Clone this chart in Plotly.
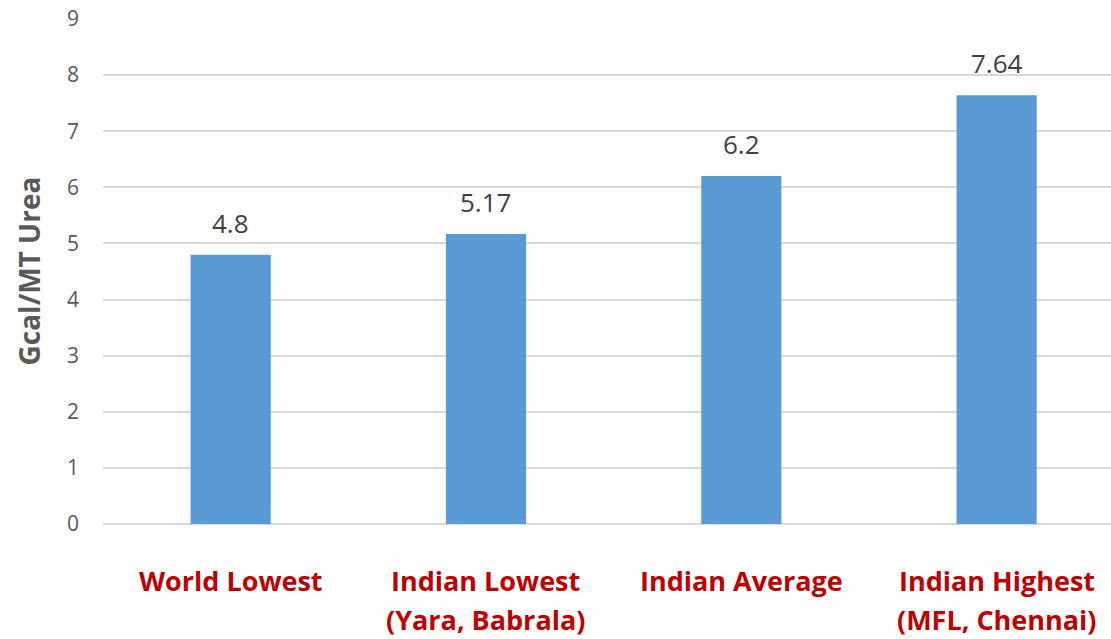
import plotly.graph_objects as go

categories = ["World Lowest", "Indian Lowest<br>(Yara, Babrala)", "Indian Average", "Indian Highest<br>(MFL, Chennai)"]
values = [4.8, 5.17, 6.2, 7.64]
value_labels = ["4.8", "5.17", "6.2", "7.64"]
y_ticks = [0, 1, 2, 3, 4, 5, 6, 7, 8, 9]
y_title = "Gcal/MT Urea"

fig = go.Figure()
fig.add_trace(go.Bar(
    x=categories, y=values, width=0.314,
    marker=dict(color="#5B9BD5", line=dict(width=0)),
    hoverinfo="skip",
))

annotations = []
for c, v, t in zip(categories, values, value_labels):
    annotations.append(dict(x=c, y=v, xref="x", yref="y", text=t, showarrow=False,
                            yanchor="bottom", yshift=12,
                            font=dict(family="Open Sans", size=26, color="#404040")))
    lines = c.split("<br>")
    for i, ln in enumerate(lines):
        annotations.append(dict(x=c, y=0, xref="x", yref="y", text="<b>" + ln + "</b>", showarrow=False,
                                yanchor="middle", yshift=-56 - 39 * i,
                                font=dict(family="Open Sans", size=27, color="#C00000")))
annotations.append(dict(x=0, y=0.5, xref="paper", yref="paper", text="<b>" + y_title + "</b>",
                        showarrow=False, textangle=-90, xanchor="center", yanchor="middle", xshift=-75,
                        font=dict(family="Open Sans", size=28, color="#595959")))

fig.update_layout(
    width=1111, height=639,
    margin=dict(l=103, r=0, t=18.5, b=114.5),
    paper_bgcolor="white", plot_bgcolor="white",
    showlegend=False, annotations=annotations,
    xaxis=dict(range=[-0.5, 3.448], showticklabels=False, showgrid=False, zeroline=False, showline=False, fixedrange=True),
    yaxis=dict(range=[0, 9], tickvals=y_ticks, showgrid=True, gridcolor="#D9D9D9", gridwidth=1.5,
               zeroline=True, zerolinecolor="#D9D9D9", zerolinewidth=1.5, showline=False,
               ticklabelstandoff=23,
               tickfont=dict(family="Open Sans", size=21, color="#595959")),
)
fig.write_html("out.html")
